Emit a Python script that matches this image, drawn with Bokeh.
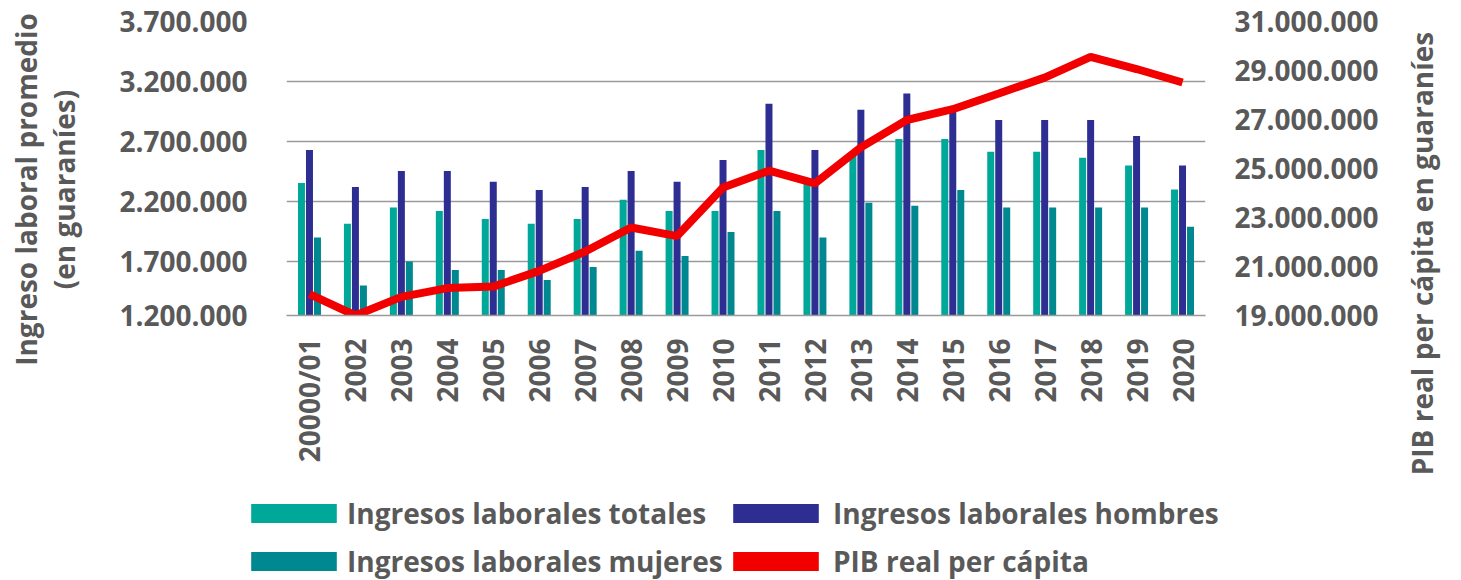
import math
from bokeh.plotting import figure
from bokeh.layouts import row, column
from bokeh.models import (FactorRange, Range1d, LinearAxis, FixedTicker, Legend,
                          LegendItem, ColumnDataSource)
from bokeh.transform import dodge
from bokeh.embed import file_html
from bokeh.resources import INLINE

# ---------------- data ----------------
categories = ["20000/01", "2002", "2003", "2004", "2005", "2006", "2007", "2008", "2009",
              "2010", "2011", "2012", "2013", "2014", "2015", "2016", "2017", "2018",
              "2019", "2020"]
ingresos_totales = [2355000, 2015000, 2150000, 2120000, 2055000, 2015000, 2055000, 2215000,
                    2120000, 2120000, 2630000, 2350000, 2600000, 2720000, 2720000, 2615000,
                    2615000, 2565000, 2500000, 2300000]
ingresos_hombres = [2630000, 2320000, 2455000, 2455000, 2365000, 2295000, 2320000, 2455000,
                    2365000, 2545000, 3015000, 2630000, 2965000, 3100000, 2970000, 2880000,
                    2880000, 2880000, 2745000, 2500000]
ingresos_mujeres = [1900000, 1500000, 1700000, 1630000, 1630000, 1545000, 1655000, 1790000,
                    1745000, 1945000, 2120000, 1900000, 2190000, 2165000, 2295000, 2150000,
                    2150000, 2150000, 2150000, 1990000]
pib_per_capita = [19870000, 19000000, 19760000, 20120000, 20180000, 20820000, 21610000,
                  22590000, 22240000, 24220000, 24910000, 24390000, 25860000, 26980000,
                  27420000, 28060000, 28710000, 29560000, 29060000, 28510000]

left_tick_values = [1250000, 1700000, 2200000, 2700000, 3200000, 3700000]
left_tick_labels = ["1.200.000", "1.700.000", "2.200.000", "2.700.000", "3.200.000", "3.700.000"]
right_tick_values = [19000000, 21000000, 23000000, 25000000, 27000000, 29000000, 31000000]
right_tick_labels = ["19.000.000", "21.000.000", "23.000.000", "25.000.000", "27.000.000",
                     "29.000.000", "31.000.000"]

series_names = ["Ingresos laborales totales", "Ingresos laborales hombres",
                "Ingresos laborales mujeres", "PIB real per cápita"]
left_title = "Ingreso laboral promedio\n(en guaraníes)"
right_title = "PIB real per cápita en guaraníes"

# ---------------- style ----------------
C_TOT = "#00A899"
C_HOM = "#2E2D92"
C_MUJ = "#008890"
C_PIB = "#F20000"
TXT = "#595959"
GRID = "#9a9a9a"
FONT = "Open Sans"
FS = "28px"
H = 580
H_TOP = 485
H_LEG = H - H_TOP
W = 1461
LEFT_W = 100
RIGHT_W = 71
MAIN_W = W - LEFT_W - RIGHT_W


def style_axis(ax):
    ax.axis_line_color = None
    ax.major_tick_line_color = None
    ax.minor_tick_line_color = None
    ax.major_label_text_font = FONT
    ax.major_label_text_font_size = FS
    ax.major_label_text_font_style = "bold"
    ax.major_label_text_color = TXT


def title_figure(width, border_left, top, bottom, text, standoff):
    """A narrow empty full-height figure whose only visible content is a y-axis title."""
    f = figure(width=width, height=H, output_backend="svg", toolbar_location=None,
               x_range=Range1d(0, 1), y_range=Range1d(0, 1), x_axis_location=None,
               min_border_left=border_left, min_border_right=0,
               min_border_top=top, min_border_bottom=bottom)
    f.outline_line_color = None
    f.grid.visible = False
    ax = f.yaxis[0]
    ax.ticker = FixedTicker(ticks=[])
    ax.axis_line_color = None
    ax.major_tick_line_color = None
    ax.minor_tick_line_color = None
    ax.major_label_text_font_size = "0px"
    ax.major_label_standoff = 0
    ax.major_tick_out = 0
    ax.axis_label = text
    ax.axis_label_standoff = standoff
    ax.axis_label_text_font = FONT
    ax.axis_label_text_font_size = FS
    ax.axis_label_text_font_style = "bold"
    ax.axis_label_text_color = TXT
    ax.axis_label_text_line_height = 1.0
    return f


# ---------------- main chart ----------------
p = figure(x_range=FactorRange(factors=categories),
           y_range=Range1d(left_tick_values[0], left_tick_values[-1]),
           width=MAIN_W, height=H_TOP, output_backend="svg", toolbar_location=None,
           min_border_left=186, min_border_right=MAIN_W - 1105, min_border_top=21,
           min_border_bottom=H_TOP - 315)
p.extra_y_ranges = {"pib": Range1d(right_tick_values[0], right_tick_values[-1])}
p.outline_line_color = None

src = ColumnDataSource(dict(cat=categories, tot=ingresos_totales, hom=ingresos_hombres,
                            muj=ingresos_mujeres, pib=pib_per_capita))

bw = 0.152
off = 0.174
base = left_tick_values[0]
p.vbar(x=dodge("cat", -off, range=p.x_range), top="tot", bottom=base, width=bw,
       source=src, fill_color=C_TOT, line_color=None)
p.vbar(x=dodge("cat", 0.0, range=p.x_range), top="hom", bottom=base, width=bw,
       source=src, fill_color=C_HOM, line_color=None)
p.vbar(x=dodge("cat", off, range=p.x_range), top="muj", bottom=base, width=bw,
       source=src, fill_color=C_MUJ, line_color=None)
p.line(x="cat", y="pib", y_range_name="pib", source=src, line_color=C_PIB, line_width=8)

yl = p.yaxis[0]
yl.ticker = FixedTicker(ticks=left_tick_values)
yl.major_label_overrides = dict(zip(left_tick_values, left_tick_labels))
style_axis(yl)
yl.major_label_standoff = 33

yr = LinearAxis(y_range_name="pib", ticker=FixedTicker(ticks=right_tick_values),
                major_label_overrides=dict(zip(right_tick_values, right_tick_labels)))
style_axis(yr)
yr.major_label_standoff = 23
p.add_layout(yr, "right")

xa = p.xaxis[0]
style_axis(xa)
xa.axis_line_color = GRID
xa.axis_line_width = 1.5
xa.major_label_orientation = math.pi / 2
xa.major_label_standoff = 17

p.xgrid.visible = False
p.ygrid.grid_line_color = GRID
p.ygrid.grid_line_width = 1.5

# ---------------- axis titles (own full-height strips) ----------------
left_fig = title_figure(LEFT_W, 95, 10, H - 368, left_title, 13)
right_fig = title_figure(RIGHT_W, 52, 33, H - 473, right_title, 2)

# ---------------- legend (own strip, with invisible zero-size swatch proxies) ----------------
lf = figure(width=MAIN_W, height=H_LEG, output_backend="svg", toolbar_location=None,
            x_range=FactorRange(factors=categories), y_range=Range1d(0, 1),
            x_axis_location=None, y_axis_location=None,
            min_border_left=0, min_border_right=0, min_border_top=0, min_border_bottom=0)
lf.outline_line_color = None
lf.grid.visible = False
colors = [C_TOT, C_HOM, C_MUJ, C_PIB]
cols = ["tot", "hom", "muj", "pib"]
proxies = [lf.vbar(x="cat", top=c, bottom=c, width=0, source=src, fill_color=col,
                   line_color=None) for c, col in zip(cols, colors)]


def make_legend(idx, x, standoff):
    return Legend(items=[LegendItem(label=series_names[i], renderers=[proxies[i]]) for i in idx],
                  orientation="vertical", location=(x, 0),
                  glyph_width=107, glyph_height=24, label_standoff=standoff,
                  spacing=10, padding=0, margin=0,
                  border_line_color=None, background_fill_alpha=0,
                  label_text_font=FONT, label_text_font_size=FS,
                  label_text_font_style="bold", label_text_color=TXT)


lf.add_layout(make_legend([0, 2], 240 - LEFT_W, 0), "center")
lf.add_layout(make_legend([1, 3], 722 - LEFT_W, 4), "center")

layout = row(left_fig, row(column(p, row(lf, spacing=0), spacing=0), right_fig, spacing=0),
             spacing=0)
open("out.html", "w").write(file_html(layout, INLINE))
